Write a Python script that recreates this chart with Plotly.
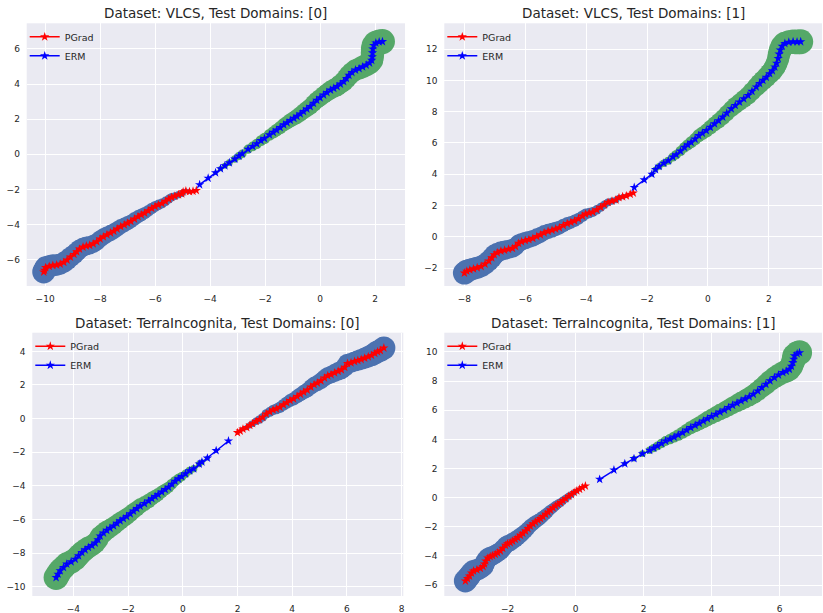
import plotly.graph_objects as go
import numpy as np

W, H = 823, 613

titles = [
    "Dataset: VLCS, Test Domains: [0]",
    "Dataset: VLCS, Test Domains: [1]",
    "Dataset: TerraIncognita, Test Domains: [0]",
    "Dataset: TerraIncognita, Test Domains: [1]",
]
series_names = ["PGrad", "ERM"]

# ---- Panel 1: VLCS, test domain 0 ----
p1_pgrad_x = [-4.50, -4.62, -4.75, -4.88, -4.98, -5.03, -5.15, -5.28, -5.40, -5.50, -5.62, -5.75, -5.88, -6.00,
              -6.12, -6.25, -6.38, -6.50, -6.62, -6.75, -6.88, -7.00, -7.12, -7.25, -7.38, -7.50, -7.62, -7.75,
              -7.88, -8.00, -8.12, -8.25, -8.38, -8.50, -8.62, -8.75, -8.85, -8.95, -9.08, -9.20, -9.32, -9.45,
              -9.58, -9.72, -9.85, -9.98, -10.02, -10.05]
p1_pgrad_y = [-2.06, -2.10, -2.12, -2.09, -2.14, -2.25, -2.30, -2.38, -2.45, -2.55, -2.68, -2.80, -2.88, -2.97,
              -3.08, -3.22, -3.35, -3.45, -3.55, -3.68, -3.82, -3.92, -4.02, -4.12, -4.25, -4.38, -4.48, -4.58,
              -4.70, -4.82, -4.98, -5.10, -5.18, -5.22, -5.28, -5.40, -5.55, -5.70, -5.85, -6.02, -6.15, -6.25,
              -6.30, -6.32, -6.38, -6.45, -6.60, -6.70]
p1_erm_x = [-4.38, -4.07, -3.80, -3.62, -3.46, -3.30, -3.10, -2.95, -2.83, -2.62, -2.45, -2.30, -2.15, -2.02,
            -1.84, -1.70, -1.58, -1.45, -1.32, -1.20, -1.08, -0.95, -0.84, -0.72, -0.60, -0.48, -0.36, -0.24,
            -0.12, 0.00, 0.13, 0.25, 0.38, 0.50, 0.62, 0.74, 0.86, 0.96, 1.05, 1.16, 1.29, 1.42, 1.55, 1.68,
            1.80, 1.88, 1.90, 1.91, 1.92, 1.95, 2.03, 2.15, 2.27]
p1_erm_y = [-1.73, -1.36, -1.05, -0.82, -0.65, -0.48, -0.27, -0.10, 0.03, 0.29, 0.45, 0.60, 0.78, 0.90,
            1.11, 1.25, 1.38, 1.52, 1.68, 1.80, 1.93, 2.05, 2.16, 2.30, 2.44, 2.58, 2.72, 2.90,
            3.08, 3.22, 3.38, 3.52, 3.66, 3.76, 3.86, 4.00, 4.14, 4.32, 4.50, 4.66, 4.80, 4.88, 4.98, 5.08,
            5.20, 5.35, 5.55, 5.78, 6.00, 6.20, 6.34, 6.40, 6.42]

# ---- Panel 2: VLCS, test domain 1 ----
p2_pgrad_x = [-2.45, -2.55, -2.68, -2.80, -2.92, -3.02, -3.15, -3.28, -3.40, -3.52, -3.65, -3.78, -3.90, -4.02,
              -4.12, -4.25, -4.38, -4.50, -4.62, -4.75, -4.88, -5.00, -5.12, -5.25, -5.38, -5.50, -5.62, -5.75,
              -5.88, -6.00, -6.12, -6.22, -6.32, -6.42, -6.55, -6.68, -6.80, -6.92, -7.02, -7.10, -7.20, -7.32,
              -7.45, -7.58, -7.70, -7.82, -7.92, -8.00]
p2_pgrad_y = [2.80, 2.72, 2.62, 2.56, 2.50, 2.35, 2.28, 2.20, 2.05, 1.88, 1.72, 1.58, 1.52, 1.45,
              1.32, 1.15, 1.02, 0.92, 0.84, 0.72, 0.58, 0.50, 0.42, 0.35, 0.25, 0.12, 0.02, -0.10,
              -0.18, -0.24, -0.32, -0.42, -0.62, -0.74, -0.80, -0.86, -0.92, -1.02, -1.15, -1.35, -1.55, -1.75,
              -1.90, -1.98, -2.05, -2.12, -2.20, -2.32]
p2_erm_x = [-2.42, -2.09, -1.84, -1.72, -1.60, -1.45, -1.30, -1.15, -1.04, -0.90, -0.77, -0.66, -0.55, -0.42,
            -0.30, -0.18, -0.05, 0.08, 0.22, 0.35, 0.49, 0.62, 0.77, 0.90, 1.04, 1.18, 1.32, 1.45, 1.59,
            1.70, 1.81, 1.92, 2.03, 2.12, 2.20, 2.26, 2.31, 2.34, 2.38, 2.44, 2.53, 2.66, 2.80, 2.93, 3.05]
p2_erm_y = [3.15, 3.64, 4.00, 4.30, 4.50, 4.70, 4.86, 5.10, 5.25, 5.48, 5.72, 5.88, 6.04, 6.25,
            6.47, 6.62, 6.79, 7.00, 7.22, 7.42, 7.65, 7.90, 8.18, 8.40, 8.61, 8.82, 9.04, 9.30, 9.58,
            9.80, 10.00, 10.20, 10.43, 10.62, 10.86, 11.10, 11.40, 11.68, 11.94, 12.18, 12.36, 12.44, 12.47, 12.46, 12.47]

# ---- Panel 3: TerraIncognita, test domain 0 ----
p3_pgrad_x = [2.00, 2.10, 2.20, 2.34, 2.45, 2.55, 2.68, 2.80, 2.92, 3.05, 3.18, 3.30, 3.42, 3.55, 3.68,
              3.80, 3.92, 4.05, 4.18, 4.30, 4.42, 4.55, 4.68, 4.80, 4.92, 5.05, 5.18, 5.30, 5.42, 5.55,
              5.68, 5.80, 5.92, 6.02, 6.15, 6.28, 6.40, 6.52, 6.65, 6.78, 6.90, 7.02, 7.12, 7.22, 7.35]
p3_pgrad_y = [-0.83, -0.74, -0.62, -0.53, -0.40, -0.30, -0.16, -0.06, 0.08, 0.28, 0.40, 0.52, 0.58, 0.68, 0.82,
              0.95, 1.08, 1.18, 1.32, 1.45, 1.58, 1.70, 1.88, 2.02, 2.12, 2.25, 2.42, 2.55, 2.62, 2.72,
              2.82, 2.90, 3.05, 3.28, 3.32, 3.40, 3.46, 3.52, 3.60, 3.68, 3.76, 3.88, 3.98, 4.05, 4.20]
p3_erm_x = [1.67, 1.22, 0.90, 0.70, 0.60, 0.40, 0.25, 0.10, -0.04, -0.16, -0.28, -0.40, -0.52, -0.64,
            -0.77, -0.90, -1.01, -1.13, -1.25, -1.40, -1.56, -1.68, -1.80, -1.92, -2.05, -2.17, -2.29,
            -2.41, -2.53, -2.66, -2.78, -2.90, -3.02, -3.10, -3.20, -3.32, -3.45, -3.57, -3.69, -3.81,
            -3.93, -4.08, -4.24, -4.36, -4.48, -4.56, -4.63]
p3_erm_y = [-1.33, -1.90, -2.35, -2.58, -2.70, -2.98, -3.10, -3.28, -3.45, -3.58, -3.72, -3.90, -4.08, -4.22,
            -4.36, -4.52, -4.63, -4.76, -4.90, -5.05, -5.20, -5.35, -5.50, -5.66, -5.82, -5.95, -6.08,
            -6.23, -6.38, -6.52, -6.64, -6.80, -6.98, -7.20, -7.40, -7.55, -7.66, -7.80, -7.96, -8.16,
            -8.36, -8.52, -8.65, -8.85, -9.05, -9.25, -9.45]

# ---- Panel 4: TerraIncognita, test domain 1 ----
p4_pgrad_x = [0.29, 0.20, 0.12, 0.04, -0.04, -0.12, -0.20, -0.29, -0.37, -0.44, -0.52, -0.59, -0.66, -0.74,
              -0.81, -0.88, -0.96, -1.03, -1.10, -1.18, -1.25, -1.33, -1.40, -1.47, -1.55, -1.62, -1.70,
              -1.77, -1.85, -1.92, -2.00, -2.06, -2.14, -2.21, -2.29, -2.36, -2.44, -2.51, -2.58, -2.64,
              -2.68, -2.72, -2.80, -2.90, -3.00, -3.06, -3.12, -3.18, -3.24]
p4_pgrad_y = [0.80, 0.70, 0.58, 0.47, 0.36, 0.22, 0.10, -0.07, -0.20, -0.34, -0.45, -0.57, -0.70, -0.85,
              -1.00, -1.14, -1.30, -1.44, -1.55, -1.67, -1.80, -1.95, -2.12, -2.29, -2.45, -2.59, -2.74,
              -2.86, -2.98, -3.09, -3.16, -3.27, -3.48, -3.66, -3.78, -3.89, -3.98, -4.05, -4.15, -4.35,
              -4.55, -4.72, -4.85, -4.95, -5.03, -5.18, -5.38, -5.55, -5.72]
p4_erm_x = [0.71, 1.13, 1.45, 1.72, 1.97, 2.18, 2.30, 2.41, 2.53, 2.65, 2.78, 2.90, 3.02, 3.15, 3.27,
            3.39, 3.52, 3.64, 3.76, 3.88, 4.00, 4.13, 4.25, 4.38, 4.50, 4.62, 4.75, 4.87, 4.99, 5.11,
            5.23, 5.36, 5.48, 5.60, 5.72, 5.85, 5.97, 6.10, 6.20, 6.29, 6.35, 6.39, 6.42, 6.44, 6.52, 6.59]
p4_erm_y = [1.26, 1.90, 2.33, 2.68, 3.02, 3.25, 3.40, 3.55, 3.72, 3.89, 4.02, 4.16, 4.30, 4.46, 4.64,
            4.81, 4.96, 5.10, 5.26, 5.42, 5.57, 5.72, 5.87, 6.02, 6.18, 6.34, 6.49, 6.64, 6.78, 6.93,
            7.10, 7.32, 7.55, 7.78, 8.02, 8.24, 8.42, 8.58, 8.68, 8.81, 9.02, 9.27, 9.50, 9.73, 9.88, 9.95]

panels = [
    (p1_pgrad_x, p1_pgrad_y, p1_erm_x, p1_erm_y),
    (p2_pgrad_x, p2_pgrad_y, p2_erm_x, p2_erm_y),
    (p3_pgrad_x, p3_pgrad_y, p3_erm_x, p3_erm_y),
    (p4_pgrad_x, p4_pgrad_y, p4_erm_x, p4_erm_y),
]

# ---- layout geometry (pixels) ----
boxes = [  # left, right, top, bottom
    (26.7, 405.0, 23.3, 286.0),
    (444.3, 822.0, 23.3, 286.0),
    (32.3, 403.3, 332.7, 596.0),
    (444.3, 822.0, 332.7, 596.0),
]
xranges = [[-10.67, 3.09], [-8.66, 3.75], [-5.50, 8.06], [-3.86, 7.25]]
yranges = [[-7.50, 7.46], [-3.15, 13.65], [-10.55, 5.11], [-6.75, 11.32]]

TEXT = "#262626"
FONT = "DejaVu Sans"
BAND_PG = "#4C72B0"
BAND_ERM = "#55A868"

fig = go.Figure()

def band_sizes(n, dmax):
    return [dmax * ((i + 1) / n) ** 0.6 for i in range(n)]

for k, (px, py, ex, ey) in enumerate(panels):
    sfx = "" if k == 0 else str(k + 1)
    xa, ya = "x" + sfx, "y" + sfx
    lg = "legend" + sfx
    fig.add_trace(go.Scatter(x=px, y=py, mode="markers", xaxis=xa, yaxis=ya, showlegend=False,
                             hoverinfo="skip",
                             marker=dict(size=band_sizes(len(px), 23), color=BAND_PG, opacity=1,
                                         line=dict(width=0))))
    fig.add_trace(go.Scatter(x=ex, y=ey, mode="markers", xaxis=xa, yaxis=ya, showlegend=False,
                             hoverinfo="skip",
                             marker=dict(size=band_sizes(len(ex), 25), color=BAND_ERM, opacity=1,
                                         line=dict(width=0))))
    fig.add_trace(go.Scatter(x=px, y=py, mode="lines+markers", name=series_names[0], xaxis=xa, yaxis=ya,
                             legend=lg, line=dict(color="red", width=1.5),
                             marker=dict(symbol="star", size=7, color="red", line=dict(width=0))))
    fig.add_trace(go.Scatter(x=ex, y=ey, mode="lines+markers", name=series_names[1], xaxis=xa, yaxis=ya,
                             legend=lg, line=dict(color="blue", width=1.5),
                             marker=dict(symbol="star", size=7, color="blue", line=dict(width=0))))

layout = dict(
    width=W, height=H,
    margin=dict(l=0, r=0, t=0, b=0),
    paper_bgcolor="white",
    plot_bgcolor="#EAEAF2",
    font=dict(family=FONT, color=TEXT, size=9),
    annotations=[],
)

axis_common = dict(showgrid=True, gridcolor="white", gridwidth=1.2, zeroline=False, showline=False,
                   dtick=2, ticks="outside", ticklen=4, tickcolor="rgba(0,0,0,0)",
                   tickfont=dict(family=FONT, size=9, color=TEXT))

for k, (l, r, t, b) in enumerate(boxes):
    sfx = "" if k == 0 else str(k + 1)
    xd = [l / W, r / W]
    yd = [1 - b / H, 1 - t / H]
    layout["xaxis" + sfx] = dict(axis_common, domain=xd, range=xranges[k], anchor="y" + sfx)
    layout["yaxis" + sfx] = dict(axis_common, domain=yd, range=yranges[k], anchor="x" + sfx)
    layout["legend" + sfx] = dict(x=(l - 2) / W, y=1 - (t - 1) / H, xanchor="left", yanchor="top",
                                  bgcolor="rgba(0,0,0,0)", itemwidth=30, tracegroupgap=0,
                                  font=dict(family=FONT, size=9.5, color=TEXT))
    layout["annotations"].append(dict(text=titles[k], x=(l + r) / 2 / W, y=1 - (t - 10) / H,
                                      xref="paper", yref="paper", xanchor="center", yanchor="middle",
                                      showarrow=False, font=dict(family=FONT, size=13.5, color=TEXT)))

fig.update_layout(**layout)
fig.write_html("out.html", config={"displayModeBar": False},
               post_script="document.body.style.margin='0';")
